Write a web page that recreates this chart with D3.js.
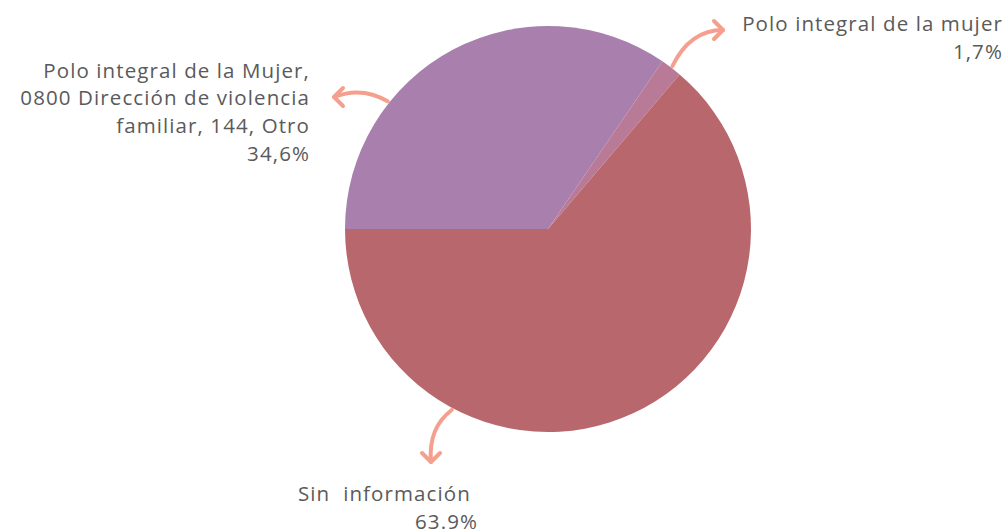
<!DOCTYPE html>
<html>
<head>
<meta charset="utf-8">
<script src="https://cdn.jsdelivr.net/npm/d3@7"></script>
<style>
  body { margin: 0; background: #fff; }
  svg { display: block; }
  text { font-family: "Open Sans", sans-serif; fill: #5a5a5a; font-size: 20.5px; letter-spacing: 1.1px; white-space: pre; }
</style>
</head>
<body>
<svg id="chart" width="1008" height="531"></svg>
<script>
const categories = ['Polo integral de la Mujer, 0800 Dirección de violencia familiar, 144, Otro', 'Polo integral de la mujer', 'Sin  información'];
const values = [34.6, 1.7, 63.9];
const valueLabels = ['34,6%', '1,7%', '63.9%'];
const colors = ['#a97fae', '#b97a97', '#b8686d'];

const svg = d3.select('#chart');
const cx = 548, cy = 229, radius = 203;
const arrowColor = '#f5a08e';

const pie = d3.pie()
    .sort(null)
    .startAngle(-Math.PI / 2)
    .endAngle(3 * Math.PI / 2);

const arc = d3.arc().innerRadius(0).outerRadius(radius);

const g = svg.append('g').attr('transform', `translate(${cx},${cy})`);
const arcs = pie(values);

g.selectAll('path.slice')
    .data(arcs)
    .enter().append('path')
    .attr('class', 'slice')
    .attr('d', arc)
    .attr('fill', (d, i) => colors[i]);

// point on the rim at a given angle (d3 convention: 0 = 12 o'clock, clockwise)
const rim = (a, r) => [cx + r * Math.sin(a), cy - r * Math.cos(a)];

const labels = [
    { lines: ['Polo integral de la Mujer,', '0800 Dirección de violencia', 'familiar, 144, Otro', valueLabels[0]],
      x: 310, y: 77.5, anchor: 'end',
      angle: arcs[0].startAngle + 0.31 * (arcs[0].endAngle - arcs[0].startAngle), tip: [334, 97], ctrl: [362, 86], dir: 'left' },
    { lines: [categories[1], valueLabels[1]],
      x: 1003, y: 31, anchor: 'end',
      angle: (arcs[1].startAngle + arcs[1].endAngle) / 2, tip: [723, 30], ctrl: [690, 30], dir: 'right' },
    { lines: [categories[2]], extra: valueLabels[2],
      x: 298, y: 501, anchor: 'start',
      angle: arcs[2].startAngle + 0.73 * (arcs[2].endAngle - arcs[2].startAngle), tip: [431, 462], ctrl: [428, 428], dir: 'down' }
];

labels.forEach(l => {
    const start = rim(l.angle, radius + 2);
    svg.append('path')
        .attr('d', `M${start[0]},${start[1]} Q${l.ctrl[0]},${l.ctrl[1]} ${l.tip[0]},${l.tip[1]}`)
        .attr('fill', 'none')
        .attr('stroke', arrowColor)
        .attr('stroke-width', 4)
        .attr('stroke-linecap', 'round');

    const [tx, ty] = l.tip;
    const h = 9;
    let head;
    if (l.dir === 'left') head = `M${tx + h},${ty - h} L${tx},${ty} L${tx + h},${ty + h}`;
    if (l.dir === 'right') head = `M${tx - h},${ty - h} L${tx},${ty} L${tx - h},${ty + h}`;
    if (l.dir === 'down') head = `M${tx - h},${ty - h} L${tx},${ty} L${tx + h},${ty - h}`;
    svg.append('path')
        .attr('d', head)
        .attr('fill', 'none')
        .attr('stroke', arrowColor)
        .attr('stroke-width', 4)
        .attr('stroke-linecap', 'round')
        .attr('stroke-linejoin', 'round');

    const t = svg.append('text').attr('text-anchor', l.anchor);
    l.lines.forEach((line, i) => {
        t.append('tspan').attr('x', l.x).attr('y', l.y + i * 27.8).text(line);
    });
    if (l.extra) {
        svg.append('text').attr('x', 478).attr('y', l.y + 27.5).attr('text-anchor', 'end').text(l.extra);
    }
});
</script>
</body>
</html>
